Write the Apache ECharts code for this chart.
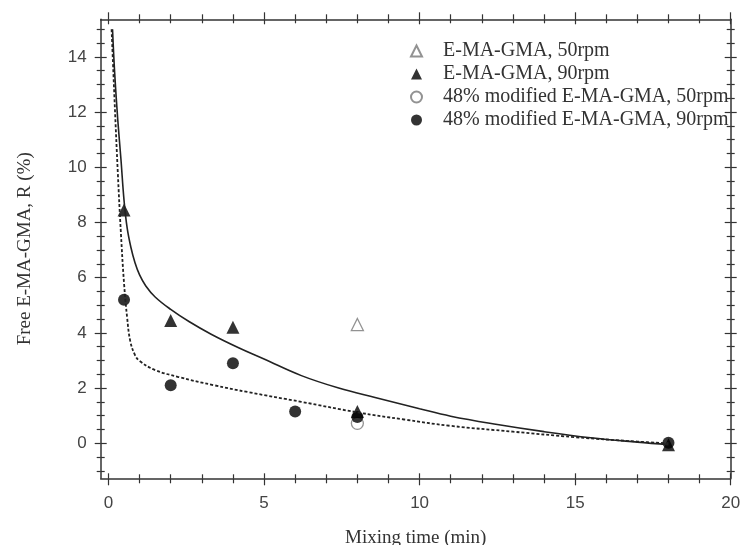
<!DOCTYPE html>
<html>
<head>
<meta charset="utf-8">
<script src="https://cdn.jsdelivr.net/npm/echarts@6.0.0/dist/echarts.min.js"></script>
<style>
html, body { margin: 0; padding: 0; background: #fff; }
#main { width: 743px; height: 545px; }
</style>
</head>
<body>
<div id="main"></div>
<script>
// measured points
var tri50 = [[8, 4.3]];
var tri90 = [[0.5, 8.45], [2, 4.45], [4, 4.2], [8, 1.15], [18, -0.05]];
var circ50 = [[8, 0.72]];
var circ90 = [[0.5, 5.2], [2, 2.1], [4, 2.9], [6, 1.15], [8, 0.95], [18, 0.02]];

// fitted curves
var fitSolid = [[0.13, 15.0], [0.2, 13.4], [0.3, 11.7], [0.4, 10.3], [0.5, 8.8], [0.6, 7.8], [0.72, 7.1],
    [0.85, 6.55], [1.0, 6.1], [1.2, 5.7], [1.5, 5.3], [2.0, 4.85], [2.6, 4.4], [3.3, 3.95], [4.2, 3.45],
    [5.0, 3.05], [6.2, 2.45], [7.4, 2.0], [8.6, 1.65], [10.0, 1.25], [11.0, 0.98], [12.5, 0.68],
    [14.0, 0.42], [15.5, 0.2], [17.0, 0.04], [18.0, -0.05]];
var fitDotted = [[0.1, 15.0], [0.2, 12.3], [0.3, 9.8], [0.4, 7.6], [0.5, 5.8], [0.6, 4.55], [0.7, 3.7],
    [0.85, 3.2], [1.0, 2.98], [1.5, 2.65], [2.25, 2.4], [3.4, 2.1], [4.5, 1.85], [6.2, 1.5], [8.0, 1.12],
    [9.5, 0.86], [11.0, 0.63], [13.0, 0.42], [15.0, 0.22], [17.0, 0.06], [18.0, 0.0]];

var names = ['E-MA-GMA, 50rpm', 'E-MA-GMA, 90rpm', '48% modified E-MA-GMA, 50rpm', '48% modified E-MA-GMA, 90rpm'];

var xRange = [-0.25, 20];
var yRange = [-1.27, 15.36];
var xMajor = [0, 5, 10, 15, 20];
var xMinor = [1, 2, 3, 4, 6, 7, 8, 9, 11, 12, 13, 14, 16, 17, 18, 19];
var yMajor = [0, 2, 4, 6, 8, 10, 12, 14];
var yMinor = [-1, -0.5, 0.5, 1, 1.5, 2.5, 3, 3.5, 4.5, 5, 5.5, 6.5, 7, 7.5, 8.5, 9, 9.5,
    10.5, 11, 11.5, 12.5, 13, 13.5, 14.5, 15];

var serif = 'Liberation Serif';
var sans = 'Liberation Sans';

function axis(pos, range, ticks, len, inside, line) {
    return {
        type: 'value',
        position: pos,
        min: range[0],
        max: range[1],
        splitLine: { show: false },
        axisLine: { show: line, onZero: false, lineStyle: { color: '#333', width: 1.5 } },
        axisTick: { show: true, inside: inside, length: len, customValues: ticks,
            lineStyle: { color: '#333', width: 1.2 } },
        axisLabel: { show: false }
    };
}

var xAxes = [];
var yAxes = [];
['bottom', 'top'].forEach(function (p) {
    xAxes.push(axis(p, xRange, xMajor, 7, false, true));
    xAxes.push(axis(p, xRange, xMajor, 5, true, false));
    xAxes.push(axis(p, xRange, xMinor, 5, false, false));
    xAxes.push(axis(p, xRange, xMinor, 4, true, false));
});
['left', 'right'].forEach(function (p) {
    yAxes.push(axis(p, yRange, yMajor, 6, false, true));
    yAxes.push(axis(p, yRange, yMajor, 6, true, false));
    yAxes.push(axis(p, yRange, yMinor, 4, false, false));
    yAxes.push(axis(p, yRange, yMinor, 4, true, false));
});

// labels and titles on the main bottom / left axes
xAxes[0].axisLabel = { show: true, customValues: xMajor, margin: 17, fontFamily: sans, fontSize: 17, color: '#444' };
xAxes[0].name = 'Mixing time (min)';
xAxes[0].nameLocation = 'middle';
xAxes[0].nameGap = 50;
xAxes[0].nameTextStyle = { fontFamily: serif, fontSize: 19, color: '#333' };
yAxes[0].axisLabel = { show: true, customValues: yMajor, margin: 14, fontFamily: sans, fontSize: 17, color: '#444' };
yAxes[0].name = 'Free E-MA-GMA, R (%)';
yAxes[0].nameLocation = 'middle';
yAxes[0].nameGap = 66;
yAxes[0].nameTextStyle = { fontFamily: serif, fontSize: 19, color: '#333' };

var option = {
    animation: false,
    backgroundColor: '#fff',
    grid: { left: 100.7, right: 12.3, top: 19.3, bottom: 66.7, containLabel: false, outerBoundsMode: 'none' },
    legend: {
        orient: 'vertical',
        left: 405,
        top: 36,
        itemWidth: 11,
        itemHeight: 11,
        itemGap: 3,
        data: names,
        textStyle: { fontFamily: serif, fontSize: 20, color: '#333', padding: [0, 0, 0, 16] }
    },
    xAxis: xAxes,
    yAxis: yAxes,
    series: [
        {
            type: 'line', data: fitSolid, showSymbol: false, silent: true,
            smooth: 0.4,
            lineStyle: { color: '#222', width: 1.6 }
        },
        {
            type: 'line', data: fitDotted, showSymbol: false, silent: true,
            smooth: 0.4,
            lineStyle: { color: '#222', width: 1.8, type: [3, 2] }
        },
        {
            name: names[0], type: 'scatter', data: tri50, symbol: 'triangle', symbolSize: 12,
            itemStyle: { color: '#fff', borderColor: '#777', borderWidth: 1.3 }
        },
        {
            name: names[2], type: 'scatter', data: circ50, symbol: 'circle', symbolSize: 12,
            itemStyle: { color: '#fff', borderColor: '#777', borderWidth: 1.3 }
        },
        {
            name: names[3], type: 'scatter', data: circ90, symbol: 'circle', symbolSize: 12,
            itemStyle: { color: '#000' }
        },
        {
            name: names[1], type: 'scatter', data: tri90, symbol: 'triangle', symbolSize: 13,
            itemStyle: { color: '#000' }
        }
    ]
};

var chart = echarts.init(document.getElementById('main'));
chart.setOption(option);
</script>
</body>
</html>
